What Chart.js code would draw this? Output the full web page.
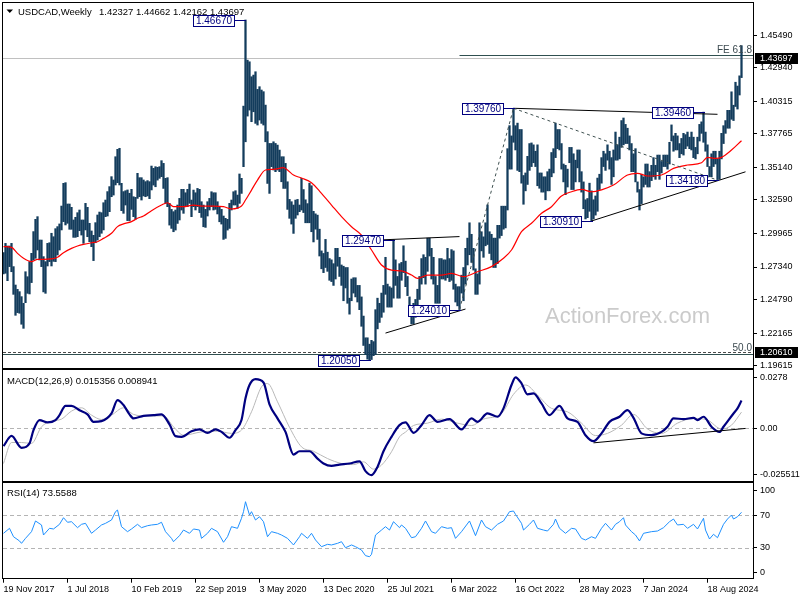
<!DOCTYPE html>
<html><head><meta charset="utf-8">
<script src="https://cdn.jsdelivr.net/npm/chart.js@4.4.1/dist/chart.umd.min.js"></script>
<style>
html,body{margin:0;padding:0;background:#fff;width:800px;height:600px;overflow:hidden;position:relative}
canvas{position:absolute;left:0}
</style></head><body>
<canvas id="cPrice" width="800" height="369" style="top:0px"></canvas>
<canvas id="cMacd" width="800" height="113" style="top:369px"></canvas>
<canvas id="cRsi" width="800" height="118" style="top:482px"></canvas>
<script>
// ---------- DATA (weekly bars, index 0 = week of 19 Nov 2017) ----------
const highs = [
1.2846,1.2919,1.2898,1.2898,1.2919,1.2737,1.2593,1.2559,1.2541,1.2502,
1.2450,1.2697,1.2658,1.2776,1.2841,1.3011,1.3107,1.3128,1.2945,1.2945,
1.2815,1.2776,1.2919,1.2924,1.2998,1.2971,1.3034,1.3050,1.3071,1.3211,
1.3389,1.3394,1.3227,1.3227,1.3201,1.3102,1.3123,1.3159,1.3180,1.3102,
1.3102,1.3232,1.3201,1.3076,1.3016,1.2982,1.3081,1.3141,1.3164,1.3159,
1.3237,1.3258,1.3324,1.3363,1.3441,1.3415,1.3597,1.3655,1.3663,1.3389,
1.3324,1.3331,1.3337,1.3311,1.3342,1.3284,1.3279,1.3467,1.3433,1.3433,
1.3415,1.3402,1.3410,1.3402,1.3524,1.3506,1.3519,1.3514,1.3519,1.3566,
1.3545,1.3428,1.3433,1.3232,1.3185,1.3167,1.3180,1.3219,1.3271,1.3342,
1.3342,1.3315,1.3342,1.3383,1.3258,1.3336,1.3315,1.3349,1.3342,1.3245,
1.3219,1.3185,1.3245,1.3271,1.3323,1.3315,1.3315,1.3245,1.3206,1.3185,
1.3133,1.3115,1.3107,1.3232,1.3258,1.3323,1.3331,1.3297,1.3462,1.3428,
1.3993,1.4667,1.4353,1.4340,1.4223,1.4236,1.4262,1.4124,1.4145,1.4119,
1.4106,1.4001,1.3793,1.3701,1.3701,1.3714,1.3701,1.3688,1.3649,1.3597,
1.3597,1.3545,1.3401,1.3263,1.3245,1.3219,1.3258,1.3263,1.3219,1.3428,
1.3340,1.3260,1.3230,1.3390,1.3370,1.3170,1.3150,1.3140,1.3030,1.2860,
1.2840,1.2950,1.2850,1.2800,1.2790,1.2760,1.2880,1.2880,1.2810,1.2750,
1.2740,1.2730,1.2730,1.2490,1.2640,1.2650,1.2650,1.2590,1.2590,1.2500,
1.2350,1.2180,1.2180,1.2130,1.2160,1.2150,1.2400,1.2490,1.2450,1.2530,
1.2590,1.2810,1.2600,1.2580,1.2570,1.2947,1.2790,1.2660,1.2760,1.2770,
1.2900,1.2780,1.2660,1.2500,1.2390,1.2450,1.2480,1.2560,1.2660,1.2800,
1.2830,1.2810,1.2960,1.2960,1.2880,1.2810,1.2660,1.2590,1.2800,1.2800,
1.2790,1.2790,1.2880,1.2800,1.2870,1.2860,1.2600,1.2580,1.2580,1.2670,
1.2730,1.2880,1.2960,1.3080,1.2990,1.2880,1.2720,1.2680,1.3080,1.3010,
1.2970,1.3080,1.3220,1.3010,1.2990,1.2960,1.2960,1.3060,1.3060,1.3210,
1.3210,1.3210,1.3660,1.3840,1.3760,1.3976,1.3840,1.3860,1.3810,1.3810,
1.3450,1.3470,1.3600,1.3700,1.3705,1.3690,1.3640,1.3690,1.3470,1.3470,
1.3440,1.3440,1.3480,1.3500,1.3630,1.3660,1.3860,1.3810,1.3810,1.3700,
1.3540,1.3530,1.3500,1.3670,1.3670,1.3620,1.3570,1.3650,1.3650,1.3480,
1.3400,1.3260,1.3270,1.3390,1.3330,1.3260,1.3290,1.3430,1.3460,1.3590,
1.3640,1.3620,1.3690,1.3640,1.3590,1.3650,1.3790,1.3690,1.3750,1.3880,
1.3900,1.3850,1.3820,1.3760,1.3700,1.3620,1.3660,1.3400,1.3340,1.3460,
1.3440,1.3540,1.3540,1.3480,1.3530,1.3590,1.3530,1.3610,1.3610,1.3560,
1.3610,1.3610,1.3610,1.3710,1.3846,1.3760,1.3780,1.3760,1.3700,1.3740,
1.3780,1.3770,1.3790,1.3750,1.3790,1.3750,1.3670,1.3750,1.3850,1.3870,
1.3946,1.3790,1.3690,1.3520,1.3620,1.3640,1.3640,1.3580,1.3640,1.3780,
1.3840,1.3880,1.3960,1.3960,1.4105,1.4000,1.4180,1.4150,1.4230,1.44662];
const lows = [
1.2679,1.2685,1.2627,1.2737,1.2697,1.2520,1.2356,1.2377,1.2372,1.2286,
1.2254,1.2455,1.2528,1.2523,1.2612,1.2789,1.2802,1.2867,1.2789,1.2737,
1.2539,1.2528,1.2742,1.2776,1.2742,1.2778,1.2776,1.2828,1.2867,1.3024,
1.3089,1.3063,1.3076,1.3029,1.3029,1.2966,1.2966,1.2971,1.3018,1.2984,
1.2919,1.3024,1.2971,1.2932,1.2893,1.2784,1.2924,1.2945,1.2971,1.2998,
1.3024,1.3128,1.3133,1.3167,1.3284,1.3297,1.3376,1.3394,1.3376,1.3175,
1.3154,1.3219,1.3097,1.3097,1.3185,1.3128,1.3107,1.3271,1.3284,1.3258,
1.3290,1.3284,1.3290,1.3269,1.3337,1.3375,1.3362,1.3414,1.3428,1.3441,
1.3349,1.3232,1.3206,1.3062,1.3036,1.3010,1.3023,1.3075,1.3102,1.3180,
1.3154,1.3211,1.3206,1.3232,1.3128,1.3206,1.3180,1.3206,1.3159,1.3122,
1.3049,1.3044,1.3133,1.3180,1.3206,1.3180,1.3185,1.3149,1.3088,1.3070,
1.2950,1.2958,1.3023,1.3036,1.3180,1.3219,1.3219,1.3193,1.3232,1.3310,
1.3519,1.3714,1.3915,1.3962,1.3871,1.3949,1.3858,1.3845,1.3884,1.3858,
1.3845,1.3714,1.3388,1.3310,1.3519,1.3493,1.3480,1.3493,1.3480,1.3401,
1.3349,1.3349,1.3185,1.3115,1.3070,1.2997,1.3115,1.3141,1.3167,1.3180,
1.3160,1.3080,1.3080,1.3080,1.3010,1.2930,1.3030,1.2950,1.2820,1.2720,
1.2690,1.2730,1.2700,1.2630,1.2620,1.2590,1.2640,1.2740,1.2660,1.2590,
1.2470,1.2570,1.2450,1.2365,1.2470,1.2530,1.2500,1.2460,1.2400,1.2270,
1.2120,1.2050,1.2013,1.2005,1.2010,1.2040,1.2050,1.2250,1.2300,1.2340,
1.2380,1.2520,1.2420,1.2420,1.2420,1.2490,1.2590,1.2490,1.2490,1.2630,
1.2690,1.2580,1.2510,1.2360,1.2288,1.2290,1.2340,1.2390,1.2480,1.2600,
1.2650,1.2600,1.2700,1.2820,1.2640,1.2600,1.2450,1.2450,1.2450,1.2640,
1.2640,1.2630,1.2650,1.2620,1.2630,1.2560,1.2460,1.2430,1.2401,1.2530,
1.2470,1.2600,1.2750,1.2830,1.2770,1.2710,1.2520,1.2520,1.2600,1.2860,
1.2810,1.2900,1.2910,1.2840,1.2790,1.2730,1.2730,1.2760,1.2960,1.2980,
1.3030,1.3040,1.3180,1.3500,1.3500,1.3710,1.3650,1.3490,1.3480,1.3390,
1.3225,1.3330,1.3380,1.3490,1.3520,1.3550,1.3520,1.3370,1.3350,1.3320,
1.3320,1.3260,1.3330,1.3330,1.3440,1.3470,1.3590,1.3660,1.3650,1.3500,
1.3400,1.3300,1.3360,1.3550,1.3340,1.3340,1.3400,1.3510,1.3400,1.3320,
1.3190,1.3110,1.3120,1.3170,1.3091,1.3110,1.3140,1.3170,1.3340,1.3390,
1.3520,1.3490,1.3570,1.3500,1.3380,1.3440,1.3570,1.3570,1.3580,1.3670,
1.3690,1.3700,1.3700,1.3650,1.3480,1.3480,1.3400,1.3320,1.3180,1.3230,
1.3360,1.3380,1.3360,1.3360,1.3410,1.3440,1.3420,1.3480,1.3420,1.3470,
1.3520,1.3520,1.3500,1.3540,1.3720,1.3640,1.3650,1.3650,1.3590,1.3620,
1.3610,1.3660,1.3680,1.3660,1.3650,1.3590,1.3580,1.3620,1.3720,1.3780,
1.3710,1.3640,1.3520,1.3440,1.3440,1.3520,1.3540,1.3418,1.3420,1.3580,
1.3700,1.3780,1.3820,1.3820,1.3890,1.3880,1.3990,1.3970,1.4080,1.42162];

// 55-week moving average: [week, value]
const maPoints = [[0,1.2893],[4,1.2888],[7,1.2841],[10,1.2802],[14,1.2776],[17,1.2794],[20,1.2794],[24,1.2797],[27,1.2810],[30,1.2846],[34,1.2880],[37,1.2898],[40,1.2911],[44,1.2924],[47,1.2932],[50,1.2958],[54,1.2998],[57,1.3050],[60,1.3071],[64,1.3089],[67,1.3115],[70,1.3133],[74,1.3175],[79,1.3219],[82,1.3237],[85,1.3206],[90,1.3206],[95,1.3219],[100,1.3211],[105,1.3211],[110,1.3206],[114,1.3188],[119,1.3211],[121,1.3258],[124,1.3336],[127,1.3414],[131,1.3493],[135,1.3498],[140,1.3511],[142,1.3493],[145,1.3454],[149,1.3430],[154,1.3394],[159,1.3310],[164,1.3219],[169,1.3128],[174,1.3049],[179,1.2984],[184,1.2867],[189,1.2750],[194,1.2710],[199,1.2703],[204,1.2671],[207,1.2645],[212,1.2671],[219,1.2671],[224,1.2684],[230,1.2658],[237,1.2697],[244,1.2737],[250,1.2802],[254,1.2867],[259,1.3010],[264,1.3076],[269,1.3154],[274,1.3206],[279,1.3289],[284,1.3323],[289,1.3341],[294,1.3323],[299,1.3338],[305,1.3375],[312,1.3454],[317,1.3467],[322,1.3446],[329,1.3454],[335,1.3506],[342,1.3532],[349,1.3550],[352,1.3592],[356,1.3584],[359,1.3592],[364,1.3649],[369,1.3722]];

const macdPoints = [[0,-0.0097],[4,-0.0041],[9,-0.0106],[13,-0.0082],[15,-0.0009],[18,0.0046],[22,0.0033],[26,0.0046],[28,0.0073],[31,0.0124],[34,0.0124],[38,0.0100],[42,0.0077],[45,0.0036],[49,0.0040],[54,0.0082],[57,0.0155],[60,0.0128],[63,0.0077],[65,0.0055],[70,0.0069],[75,0.0073],[79,0.0077],[83,0.0022],[86,-0.0042],[89,-0.0046],[94,-0.0015],[98,-0.0005],[102,-0.0024],[106,-0.0005],[109,-0.0019],[113,-0.0051],[116,-0.0009],[119,0.0046],[121,0.0165],[123,0.0238],[126,0.0270],[130,0.0252],[133,0.0132],[137,0.0055],[141,-0.0019],[145,-0.0143],[148,-0.0125],[153,-0.0125],[157,-0.0165],[160,-0.0192],[164,-0.0205],[168,-0.0198],[173,-0.0192],[178,-0.0180],[181,-0.0234],[184,-0.0256],[187,-0.0211],[190,-0.0125],[194,-0.0046],[198,0.0018],[201,0.0033],[205,-0.0024],[209,0.0018],[213,0.0073],[217,0.0036],[223,0.0051],[229,-0.0005],[234,0.0055],[237,0.0036],[242,0.0082],[247,0.0064],[250,0.0110],[254,0.0238],[256,0.0280],[259,0.0247],[262,0.0187],[265,0.0192],[269,0.0137],[273,0.0073],[278,0.0124],[282,0.0055],[287,0.0036],[291,-0.0037],[295,-0.0070],[299,-0.0027],[303,0.0036],[308,0.0064],[312,0.0100],[315,0.0058],[319,-0.0027],[324,-0.0037],[329,-0.0019],[332,0.0009],[335,0.0055],[340,0.0051],[345,0.0058],[347,0.0046],[350,0.0064],[354,0.0009],[358,-0.0019],[360,0.0009],[365,0.0082],[367,0.0110],[369,0.015356]];

const signalPoints = [[0,-0.0192],[4,-0.0077],[9,-0.0077],[14,-0.0082],[19,0.0009],[24,0.0040],[29,0.0051],[34,0.0095],[39,0.0113],[44,0.0073],[49,0.0049],[54,0.0073],[60,0.0113],[65,0.0077],[72,0.0068],[80,0.0069],[85,0.0009],[90,-0.0037],[99,-0.0019],[107,-0.0015],[114,-0.0027],[119,-0.0009],[124,0.0091],[129,0.0228],[132,0.0246],[137,0.0146],[143,0.0006],[149,-0.0101],[155,-0.0125],[162,-0.0165],[169,-0.0192],[175,-0.0198],[180,-0.0183],[185,-0.0223],[189,-0.0201],[194,-0.0128],[198,-0.0046],[201,-0.0020],[205,0.0016],[212,0.0029],[219,0.0051],[227,0.0029],[234,0.0016],[240,0.0051],[249,0.0082],[255,0.0187],[261,0.0238],[267,0.0183],[274,0.0110],[282,0.0091],[289,0.0029],[296,-0.0039],[302,-0.0027],[309,0.0018],[315,0.0077],[322,-0.0003],[329,-0.0027],[337,0.0029],[345,0.0055],[352,0.0046],[359,-0.0003],[364,0.0018],[369,0.008941]];

const rsiPoints = [[0,47.8],[3,53.9],[5,43.6],[8,38.4],[9,35.5],[11,41.6],[14,49.8],[16,62.9],[19,58.0],[20,45.7],[23,53.9],[25,53.1],[28,58.8],[30,66.9],[32,61.3],[34,62.0],[37,54.7],[39,58.8],[41,60.0],[44,47.8],[46,51.8],[49,58.0],[51,60.0],[54,64.1],[56,74.3],[57,76.3],[59,55.9],[62,49.8],[64,53.1],[67,58.8],[69,54.7],[72,57.1],[74,58.0],[77,58.8],[79,61.3],[81,49.8],[84,41.6],[85,37.5],[88,44.9],[90,51.8],[93,47.8],[95,53.1],[98,51.8],[99,41.6],[102,47.8],[104,53.9],[107,49.8],[110,36.8],[112,43.6],[114,55.9],[117,53.9],[119,66.2],[120,74.3],[121,86.5],[123,70.2],[124,74.3],[126,64.1],[128,68.1],[130,62.0],[132,43.6],[134,49.8],[137,47.8],[139,45.7],[142,41.6],[145,33.5],[148,43.6],[149,47.8],[152,41.6],[154,47.8],[156,39.6],[159,31.4],[162,34.3],[164,33.5],[167,35.5],[169,37.5],[171,30.1],[174,33.5],[176,31.4],[179,27.3],[181,20.4],[183,19.1],[184,22.0],[186,45.7],[189,51.8],[191,55.9],[193,51.8],[195,62.0],[198,54.7],[199,58.0],[201,53.9],[204,42.4],[206,43.6],[209,53.9],[211,62.9],[214,49.8],[216,47.8],[219,55.9],[222,53.9],[224,54.7],[226,41.6],[229,49.8],[233,62.9],[236,44.9],[239,64.1],[241,55.9],[244,51.8],[247,58.8],[250,62.9],[253,74.3],[255,75.1],[256,71.0],[259,60.0],[260,51.8],[263,58.8],[265,64.1],[267,53.9],[270,51.8],[272,50.6],[275,58.8],[276,65.3],[278,53.9],[281,47.8],[284,53.9],[286,53.1],[289,41.6],[291,39.6],[294,43.6],[296,41.6],[299,53.9],[301,60.0],[304,51.8],[306,58.8],[308,62.0],[310,66.9],[311,58.0],[314,49.8],[316,45.7],[318,38.4],[320,47.8],[324,49.8],[327,50.6],[330,54.7],[333,62.0],[335,65.3],[337,58.0],[340,58.8],[342,53.9],[345,58.8],[347,53.1],[350,66.2],[351,51.8],[353,40.8],[355,46.6],[357,42.4],[360,58.8],[362,65.3],[364,70.2],[365,65.3],[367,68.1],[369,73.5588]];

const tickWeeks = [0,32,64,96,128,160,192,224,256,288,320,352];
const tickLabels = ['19 Nov 2017','1 Jul 2018','10 Feb 2019','22 Sep 2019','3 May 2020','13 Dec 2020','25 Jul 2021','6 Mar 2022','16 Oct 2022','28 May 2023','7 Jan 2024','18 Aug 2024'];
const priceTicks = [1.45490,1.42940,1.40315,1.37765,1.35140,1.32590,1.29965,1.27340,1.24790,1.22165,1.19615];
const macdTicks = [0.0278,0,-0.025511];
const macdTickLabels = ['0.0278','0.00','-0.025511'];
const rsiTicks = [100,70,30,0];

// price annotations
const pivots = [[121,1.4667,'1.46670'],[195,1.2947,'1.29470'],[228,1.2401,'1.24010'],[183,1.2005,'1.20050'],[255,1.3976,'1.39760'],[294,1.3091,'1.30910'],[350,1.3946,'1.39460'],[357,1.3418,'1.34180']];
const trendLines = [[190,1.2947,228,1.2972],[191,1.2217,231,1.2405],[255,1.3976,357,1.3929],[294,1.3094,371,1.3479]];
const dashedLines = [[228,1.2401,255,1.3976],[255,1.3976,357,1.3414]];
const lastClose = 1.43697, fe618 = 1.4393, fib50 = 1.2066, supportLevel = 1.2050;
const macdTrend = [295,-0.0079,371,0.0];

// ---------- RENDERING ----------
const FONT = "'Liberation Sans', Arial, sans-serif";
Chart.defaults.font.family = FONT;
Chart.defaults.font.size = 9;
Chart.defaults.color = '#000';

const toXY = arr => arr.map(p => ({x: p[0], y: p[1]}));

function xScale(show) {
  return {
    type: 'linear', min: -0.25, max: 374.75, offset: false, display: show,
    afterBuildTicks: s => { s.ticks = tickWeeks.map(v => ({value: v})); },
    afterFit: s => { if (show) { s.height = 21.3; } s.paddingLeft = 0; s.paddingRight = 0; },
    ticks: {autoSkip: false, maxRotation: 0, minRotation: 0, align: 'start', padding: 1, color: '#000',
            font: {size: 9}, callback: (v, i) => tickLabels[i]},
    grid: {display: show, drawOnChartArea: false, drawTicks: true, tickLength: 4, color: '#000', offset: false},
    border: {display: false}
  };
}
function yScale(min, max, ticks, labelFn) {
  return {
    position: 'right', min: min, max: max,
    afterBuildTicks: s => { s.ticks = ticks.map(v => ({value: v})); },
    afterFit: s => { s.width = 47; s.paddingTop = 0; s.paddingBottom = 0; },
    ticks: {autoSkip: false, padding: 3, color: '#000', font: {size: 9}, callback: (v, i) => labelFn(v, i)},
    grid: {drawOnChartArea: false, drawTicks: true, tickLength: 4, color: '#000'},
    border: {display: false}
  };
}
function frame(ctx, a) {
  ctx.save();
  ctx.strokeStyle = '#000'; ctx.lineWidth = 1;
  ctx.strokeRect(Math.round(a.left) - 0.5, Math.round(a.top) - 0.5, Math.round(a.right - a.left) + 1, Math.round(a.bottom - a.top) + 1);
  ctx.restore();
}
function hline(ctx, y, val, x0, x1, color, dash) {
  const py = Math.round(y.getPixelForValue(val)) + 0.5;
  ctx.save(); ctx.strokeStyle = color; ctx.lineWidth = 1; ctx.setLineDash(dash || []);
  ctx.beginPath(); ctx.moveTo(x0, py); ctx.lineTo(x1, py); ctx.stroke(); ctx.restore();
}
function seg(ctx, x, y, s, color, dash) {
  ctx.save(); ctx.strokeStyle = color; ctx.lineWidth = 1; ctx.setLineDash(dash || []);
  ctx.beginPath();
  ctx.moveTo(x.getPixelForValue(s[0]), y.getPixelForValue(s[1]));
  ctx.lineTo(x.getPixelForValue(s[2]), y.getPixelForValue(s[3]));
  ctx.stroke(); ctx.restore();
}
function tag(ctx, y, val, text) {
  const py = Math.round(y.getPixelForValue(val));
  ctx.save();
  ctx.fillStyle = '#000'; ctx.fillRect(755, py - 5, 43, 11);
  ctx.fillStyle = '#fff'; ctx.font = '9px ' + FONT; ctx.textAlign = 'left'; ctx.textBaseline = 'middle';
  ctx.fillText(text, 760, py + 0.5);
  ctx.restore();
}

const priceOverlay = {
  id: 'priceOverlay',
  beforeDatasetsDraw(chart) {
    const {ctx, chartArea: a, scales: {x, y}} = chart;
    ctx.save();
    ctx.beginPath(); ctx.rect(a.left, a.top, a.right - a.left, a.bottom - a.top); ctx.clip();
    ctx.font = '22px ' + FONT; ctx.fillStyle = '#cbcbcb'; ctx.textAlign = 'center'; ctx.textBaseline = 'middle';
    ctx.fillText('ActionForex.com', x.getPixelForValue(312), y.getPixelForValue(1.2343));
    hline(ctx, y, lastClose, a.left, a.right, '#c0c0c0');
    hline(ctx, y, fe618, x.getPixelForValue(228), a.right, '#2f4f4f');
    hline(ctx, y, fib50, a.left, a.right, '#4a4a4a', [3, 2]);
    hline(ctx, y, supportLevel, a.left, a.right, '#2f4f4f');
    ctx.restore();
  },
  afterDatasetsDraw(chart) {
    const {ctx, chartArea: a, scales: {x, y}} = chart;
    ctx.save();
    ctx.beginPath(); ctx.rect(a.left, a.top, a.right - a.left, a.bottom - a.top); ctx.clip();
    trendLines.forEach(s => seg(ctx, x, y, s, '#000'));
    dashedLines.forEach(s => seg(ctx, x, y, s, '#3d4f4f', [3, 3]));
    pivots.forEach(p => {
      const px = Math.round(x.getPixelForValue(p[0])), py = Math.round(y.getPixelForValue(p[1]));
      const r = px - 10, l = r - 42, t = py - 5;
      ctx.strokeStyle = '#00007f'; ctx.lineWidth = 1; ctx.setLineDash([]);
      ctx.beginPath(); ctx.moveTo(r, py + 0.5); ctx.lineTo(px + 1, py + 0.5); ctx.stroke();
      ctx.fillStyle = '#fff'; ctx.fillRect(l, t, 42, 12);
      ctx.strokeRect(l + 0.5, t + 0.5, 41, 11);
      ctx.fillStyle = '#00007f'; ctx.font = '10px ' + FONT; ctx.textAlign = 'center'; ctx.textBaseline = 'middle';
      ctx.fillText(p[2], l + 21, py + 1.5);
    });
    ctx.fillStyle = '#3c4a50'; ctx.font = '10px ' + FONT; ctx.textAlign = 'right'; ctx.textBaseline = 'alphabetic';
    ctx.fillText('FE 61.8', a.right - 1, y.getPixelForValue(fe618) - 2);
    ctx.fillText('50.0', a.right - 1, y.getPixelForValue(fib50) - 1.5);
    ctx.restore();
  },
  afterDraw(chart) {
    const {ctx, chartArea: a, scales: {y}} = chart;
    frame(ctx, a);
    ctx.save();
    ctx.fillStyle = '#000';
    ctx.beginPath(); ctx.moveTo(6.5, 9.5); ctx.lineTo(13, 9.5); ctx.lineTo(9.75, 13); ctx.closePath(); ctx.fill();
    ctx.font = '9.5px ' + FONT; ctx.textAlign = 'left'; ctx.textBaseline = 'alphabetic';
    ctx.fillText('USDCAD,Weekly', 18, 14.5);
    ctx.fillText('1.42327 1.44662 1.42162 1.43697', 99, 14.5);
    ctx.restore();
    tag(ctx, y, lastClose, '1.43697');
    tag(ctx, y, fib50, '1.20610');
  }
};

new Chart(document.getElementById('cPrice'), {
  type: 'bar',
  data: {datasets: [
    {type: 'line', data: toXY(maPoints), borderColor: '#ff0000', borderWidth: 1.2, pointRadius: 0, cubicInterpolationMode: 'monotone', order: 1},
    {type: 'bar', data: highs.map((h, i) => ({x: i, y: [lows[i], h]})), backgroundColor: '#133c5c', borderWidth: 0, barThickness: 1.6, borderSkipped: false, order: 2}
  ]},
  options: {
    responsive: false, animation: false, events: [],
    layout: {padding: {left: 3, top: 3, right: 0, bottom: 1}},
    plugins: {legend: {display: false}, tooltip: {enabled: false}},
    scales: {x: xScale(false), y: yScale(1.19436, 1.48, priceTicks, v => v.toFixed(5))}
  },
  plugins: [priceOverlay]
});

const macdOverlay = {
  id: 'macdOverlay',
  beforeDatasetsDraw(chart) {
    const {ctx, chartArea: a, scales: {y}} = chart;
    hline(ctx, y, 0, a.left, a.right, '#b4b4b4', [4, 3]);
  },
  afterDatasetsDraw(chart) {
    const {ctx, chartArea: a, scales: {x, y}} = chart;
    ctx.save(); ctx.beginPath(); ctx.rect(a.left, a.top, a.right - a.left, a.bottom - a.top); ctx.clip();
    seg(ctx, x, y, macdTrend, '#000');
    ctx.restore();
  },
  afterDraw(chart) {
    const {ctx, chartArea: a} = chart;
    frame(ctx, a);
    ctx.save(); ctx.fillStyle = '#000'; ctx.font = '9.5px ' + FONT; ctx.textBaseline = 'alphabetic';
    ctx.fillText('MACD(12,26,9) 0.015356 0.008941', 7, 383.5 - 369);
    ctx.restore();
  }
};
new Chart(document.getElementById('cMacd'), {
  type: 'line',
  data: {datasets: [
    {data: toXY(macdPoints), borderColor: '#000080', borderWidth: 2.2, pointRadius: 0, cubicInterpolationMode: 'monotone', order: 1},
    {data: toXY(signalPoints), borderColor: '#b9b9b9', borderWidth: 1, pointRadius: 0, cubicInterpolationMode: 'monotone', order: 2}
  ]},
  options: {
    responsive: false, animation: false, events: [],
    layout: {padding: {left: 3, top: 1.3, right: 0, bottom: 1}},
    plugins: {legend: {display: false}, tooltip: {enabled: false}},
    scales: {x: xScale(false), y: yScale(-0.0288, 0.03185, macdTicks, (v, i) => macdTickLabels[i])}
  },
  plugins: [macdOverlay]
});

const rsiOverlay = {
  id: 'rsiOverlay',
  beforeDatasetsDraw(chart) {
    const {ctx, chartArea: a, scales: {y}} = chart;
    hline(ctx, y, 70, a.left, a.right, '#b4b4b4', [4, 3]);
    hline(ctx, y, 30, a.left, a.right, '#b4b4b4', [4, 3]);
  },
  afterDraw(chart) {
    const {ctx, chartArea: a} = chart;
    frame(ctx, a);
    ctx.save(); ctx.fillStyle = '#000'; ctx.font = '9.5px ' + FONT; ctx.textBaseline = 'alphabetic';
    ctx.fillText('RSI(14) 73.5588', 7, 496 - 482);
    ctx.restore();
  }
};
new Chart(document.getElementById('cRsi'), {
  type: 'line',
  data: {datasets: [
    {data: toXY(rsiPoints), borderColor: '#1e90ff', borderWidth: 1, pointRadius: 0, tension: 0}
  ]},
  options: {
    responsive: false, animation: false, events: [],
    layout: {padding: {left: 3, top: 1.3, right: 0, bottom: 0}},
    plugins: {legend: {display: false}, tooltip: {enabled: false}},
    scales: {x: xScale(true), y: yScale(-7.84, 109.07, rsiTicks, v => String(v))}
  },
  plugins: [rsiOverlay]
});
</script></body></html>
